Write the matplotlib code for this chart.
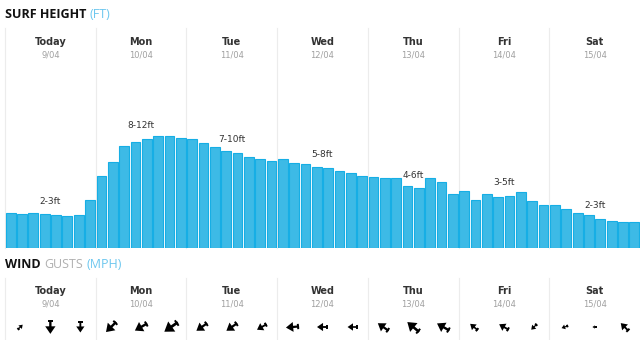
import numpy as np
import matplotlib.pyplot as plt

# 3-hourly surf height (ft), 8 readings per day
days = ["Today", "Mon", "Tue", "Wed", "Thu", "Fri", "Sat"]
dates = ["9/04", "10/04", "11/04", "12/04", "13/04", "14/04", "15/04"]
surf_ranges = ["2-3ft", "8-12ft", "7-10ft", "5-8ft", "4-6ft", "3-5ft", "2-3ft"]
surf_ft = [
    3.1, 3.0, 3.1, 3.0, 2.9, 2.8, 2.9, 4.3,
    6.4, 7.7, 9.1, 9.5, 9.7, 10.0, 10.0, 9.8,
    9.7, 9.4, 9.0, 8.7, 8.5, 8.1, 7.9, 7.8,
    7.9, 7.6, 7.5, 7.2, 7.1, 6.9, 6.7, 6.4,
    6.3, 6.2, 6.2, 5.5, 5.3, 6.2, 5.9, 4.8,
    5.1, 4.3, 4.8, 4.5, 4.6, 5.0, 4.2, 3.8,
    3.8, 3.5, 3.1, 2.9, 2.6, 2.4, 2.3, 2.3,
]

# wind gusts, 3 per day: heading the arrow points to (deg, compass) and speed (mph)
wind_heading = [45, 180, 180, 225, 240, 235, 235, 235, 240,
                265, 270, 270, 305, 310, 300, 310, 300, 225,
                250, 270, 315]
wind_gust = [12, 25, 20, 26, 26, 30, 24, 24, 20,
             24, 20, 18, 24, 28, 26, 18, 20, 14,
             12, 8, 20]

W, H = 640, 340
LEFT, COL = 5, 635 / 7
GRID = "#ececec"
BLUE = "#3dbae6"

fig = plt.figure(figsize=(W / 100, H / 100), dpi=100)

# background axes in pixel units for headers, separators and wind arrows
bg = fig.add_axes([0, 0, 1, 1])
bg.set_xlim(0, W)
bg.set_ylim(H, 0)
bg.axis("off")

font = "Open Sans"


def header(y, parts):
    prev = None
    for txt, color, weight in parts:
        if prev is None:
            prev = bg.text(LEFT, y, txt, color=color, fontweight=weight,
                           fontsize=9, family=font, va="center", ha="left")
        else:
            prev = bg.annotate(txt, xy=(1, 0), xycoords=prev, xytext=(2.5, 0),
                               textcoords="offset points", color=color,
                               fontweight=weight, fontsize=9, family=font,
                               va="bottom", ha="left")


header(15, [("SURF HEIGHT", "#111111", "bold"), ("(FT)", "#6cc7ef", "normal")])
header(264, [("WIND", "#111111", "bold"), ("GUSTS", "#b0b0b0", "normal"),
             ("(MPH)", "#6cc7ef", "normal")])

for d in range(len(days)):
    x0 = LEFT + d * COL
    xc = x0 + COL / 2
    # column separators
    bg.plot([x0, x0], [28, 248], color=GRID, lw=0.8, zorder=0)
    bg.plot([x0, x0], [278, 340], color=GRID, lw=0.8, zorder=0)
    for y_day, y_date in [(42, 55), (291, 304)]:
        bg.text(xc, y_day, days[d], ha="center", va="center", fontsize=7,
                fontweight="bold", color="#333333", family="DejaVu Sans")
        bg.text(xc, y_date, dates[d], ha="center", va="center", fontsize=6,
                color="#a0a0a0", family="DejaVu Sans")

# wind arrows
for i, (hd, g) in enumerate(zip(wind_heading, wind_gust)):
    d, k = divmod(i, 3)
    xc = LEFT + d * COL + COL / 2 + (k - 1) * 30
    yc = 327
    L = g * 0.55
    ux, uy = np.sin(np.radians(hd)), -np.cos(np.radians(hd))
    tx, ty = xc - ux * L / 2, yc - uy * L / 2
    bg.arrow(tx, ty, ux * L, uy * L, width=L * 0.17, head_width=L * 0.75,
             head_length=L * 0.55, length_includes_head=True,
             color="black", lw=0)
    # small tail fin
    px, py = -uy, ux
    f = L * 0.2
    fx, fy = tx + ux * L * 0.08, ty + uy * L * 0.08
    bg.plot([fx + px * f, fx - px * f], [fy + py * f, fy - py * f],
            color="black", lw=1.4, solid_capstyle="butt")

# surf bars
bottom_px, top_px = 247.7, 28
ax = fig.add_axes([LEFT / W, (H - bottom_px) / H, (W - LEFT) / W,
                   (bottom_px - top_px) / H])
ax.patch.set_alpha(0)
x = np.arange(len(surf_ft))
ax.bar(x, surf_ft, width=0.86, color=BLUE, edgecolor="#16aee5", linewidth=0.8,
       zorder=2)
ax.set_xlim(-0.5, len(surf_ft) - 0.5)
ax.set_ylim(0, (bottom_px - top_px) / 11.17)
ax.axis("off")

for d, lab in enumerate(surf_ranges):
    i = d * 8 + 4
    ax.annotate(lab, xy=(d * 8 + 3.5, surf_ft[i]), xytext=(0, 9.7),
                textcoords="offset points", ha="center", va="center",
                fontsize=6.5, color="#333333", family="DejaVu Sans")

fig.savefig("out.png", dpi=100)
